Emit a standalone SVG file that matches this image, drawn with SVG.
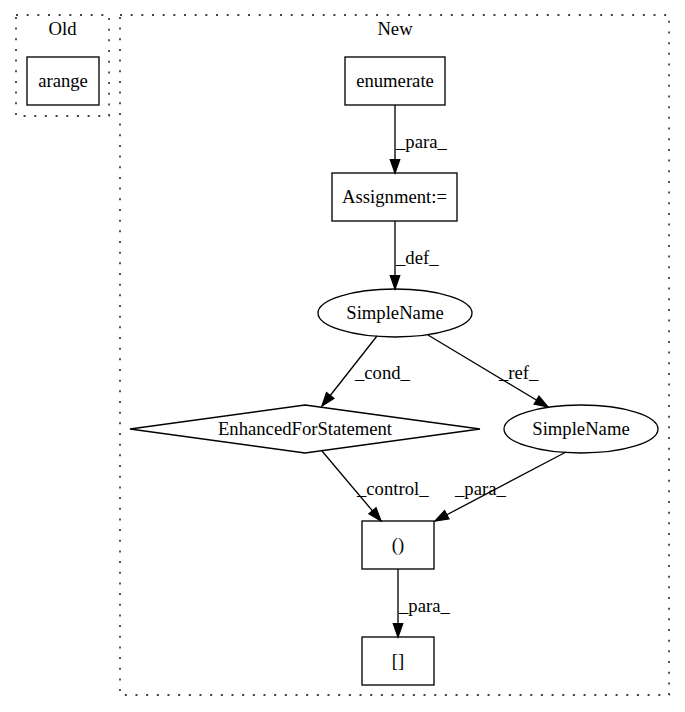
<svg xmlns="http://www.w3.org/2000/svg" width="685" height="712" viewBox="0 0 685 712">
<style>
text{font-family:"Liberation Serif","Times New Roman",serif;font-size:18.67px;fill:#000}
.c{text-anchor:middle}
.cl{fill:none;stroke:#000;stroke-width:1.33;stroke-dasharray:2,8.67}
.n{fill:none;stroke:#000;stroke-width:1.33}
.e{fill:none;stroke:#000;stroke-width:1.33;marker-end:url(#ah)}
</style>
<defs>
<marker id="ah" markerUnits="userSpaceOnUse" markerWidth="16" markerHeight="12" viewBox="-1 -6 16 12" refX="13.3" refY="0" orient="auto">
<path d="M0,-4.67 L13.3,0 L0,4.67 z" fill="#000" stroke="#000" stroke-width="1.33"/>
</marker>
</defs>
<rect width="685" height="712" fill="#fff"/>
<g id="cluster_old">
<rect class="cl" x="16" y="15" width="93" height="101"/>
<text class="c" x="62.5" y="35">Old</text>
</g>
<g id="cluster_new">
<rect class="cl" x="120" y="15" width="549" height="680"/>
<text class="c" x="395" y="35">New</text>
</g>
<g id="arange">
<rect class="n" x="27" y="57" width="72" height="48"/>
<text class="c" x="63" y="86.5">arange</text>
</g>
<g id="enumerate">
<rect class="n" x="345" y="57" width="100" height="48"/>
<text class="c" x="395" y="86.5">enumerate</text>
</g>
<g id="assignment">
<rect class="n" x="332" y="173" width="125" height="48"/>
<text class="c" x="394.5" y="202.5">Assignment:=</text>
</g>
<g id="simplename1">
<ellipse class="n" cx="395" cy="313" rx="77" ry="24"/>
<text class="c" x="395" y="318.5">SimpleName</text>
</g>
<g id="enhancedfor">
<polygon class="n" points="305,405 480,429 305,453 130,429"/>
<text class="c" x="305" y="434.5">EnhancedForStatement</text>
</g>
<g id="simplename2">
<ellipse class="n" cx="581" cy="429" rx="77" ry="24"/>
<text class="c" x="581" y="434.5">SimpleName</text>
</g>
<g id="paren">
<rect class="n" x="362" y="521" width="72" height="48"/>
<text class="c" x="398" y="550.5">()</text>
</g>
<g id="bracket">
<rect class="n" x="362" y="637" width="72" height="48"/>
<text class="c" x="398" y="666.5">[]</text>
</g>
<g id="edges">
<path class="e" d="M395,105 L395,173"/>
<text x="396" y="148">_para_</text>
<path class="e" d="M395,221 L395,289"/>
<text x="396" y="264">_def_</text>
<path class="e" d="M377,336 L322,406"/>
<text x="355" y="379">_cond_</text>
<path class="e" d="M428,335 L548,407"/>
<text x="499" y="379">_ref_</text>
<path class="e" d="M322,451 L381,521"/>
<text x="357" y="495">_control_</text>
<path class="e" d="M566,452 L435,521"/>
<text x="455" y="495">_para_</text>
<path class="e" d="M398,569 L398,637"/>
<text x="399" y="612">_para_</text>
</g>
</svg>
